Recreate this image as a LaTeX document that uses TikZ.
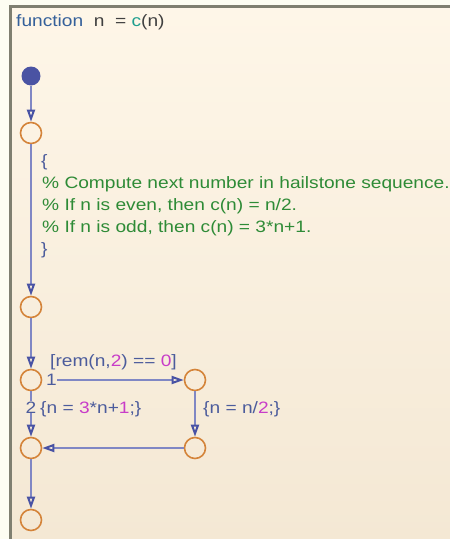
\documentclass[tikz,border=0pt]{standalone}
\usepackage{fontspec}
\setmainfont[FakeStretch=1.16]{Liberation Sans}
\usetikzlibrary{arrows.meta}
\definecolor{outside}{HTML}{FDFDF2}
\definecolor{topfill}{HTML}{FEF6E8}
\definecolor{botfill}{HTML}{F4E8D4}
\definecolor{frame}{HTML}{7F7F70}
\definecolor{junc}{HTML}{D4843A}
\definecolor{trans}{HTML}{8087C4}
\definecolor{tip}{HTML}{4852A4}
\definecolor{dot}{HTML}{4A53A3}
\definecolor{kw}{HTML}{35609A}
\definecolor{plain}{HTML}{404040}
\definecolor{teal}{HTML}{1E9E8E}
\definecolor{lbl}{HTML}{4C5C9C}
\definecolor{cmt}{HTML}{2E8B36}
\definecolor{num}{HTML}{C83CC8}
\tikzset{
  jn/.style={circle, draw=junc, line width=1.6pt, minimum size=21pt, inner sep=0pt},
  tr/.style={draw=trans, line width=2.2pt},
  tra/.style={tr, -{Triangle[open, length=12pt, width=8pt, line width=2pt, color=tip]}},
  txt/.style={anchor=base west, inner sep=0pt, font=\fontsize{16.5}{22}\selectfont},
}
\begin{document}
\begin{tikzpicture}[x=1pt, y=-1pt]
\useasboundingbox (0,0) rectangle (450,539);
\fill[outside] (0,0) rectangle (450,539);
\shade[top color=topfill, bottom color=botfill] (10,6) rectangle (452,541);
\draw[frame, line width=3pt] (10,541) -- (10,6) -- (452,6);

\node[txt] (title) at (16,26) {\textcolor{kw}{function}\ \ \textcolor{plain}{n\ \ = }\textcolor{teal}{c}\textcolor{plain}{(n)}};

\node[circle, fill=dot, minimum size=19pt, inner sep=0pt] (d) at (31,76) {};
\node[jn] (j1) at (31,133) {};
\node[jn] (j2) at (31,307) {};
\node[jn] (j3) at (31,380) {};
\node[jn] (j4) at (195,380) {};
\node[jn] (j5) at (195,448) {};
\node[jn] (j6) at (31,448) {};
\node[jn] (j7) at (31,520) {};

\draw[tra] (d) -- (j1);
\draw[tra] (j1) -- (j2);
\draw[tra] (j2) -- (j3);

\node[txt, text=lbl] (b1) at (41,166) {\{};
\node[txt, text=cmt] (c1) at (42,188) {\% Compute next number in hailstone sequence.};
\node[txt, text=cmt] (c2) at (42,210) {\% If n is even, then c(n) = n/2.};
\node[txt, text=cmt] (c3) at (42,232) {\% If n is odd, then c(n) = 3*n+1.};
\node[txt, text=lbl] (b2) at (41,254) {\}};

\node[txt, text=lbl] (one) at (46,385) {1};
\draw[tra] (one.east |- j3) -- (j4);
\node[txt, text=lbl] (cond) at (50,366) {[rem(n,\textcolor{num}{2}) == \textcolor{num}{0}]};

\node[txt, text=lbl, anchor=base] (two) at (31,413) {2};
\draw[tr] (j3) -- (j3 |- two.north);
\draw[tra] (j3 |- two.south) -- (j6);
\node[txt, text=lbl] (act1) at (40,413) {\{n = \textcolor{num}{3}*n+\textcolor{num}{1};\}};

\draw[tra] (j4) -- (j5);
\node[txt, text=lbl] (act2) at (203,413) {\{n = n/\textcolor{num}{2};\}};
\draw[tra] (j5) -- (j6);
\draw[tra] (j6) -- (j7);
\end{tikzpicture}
\end{document}
